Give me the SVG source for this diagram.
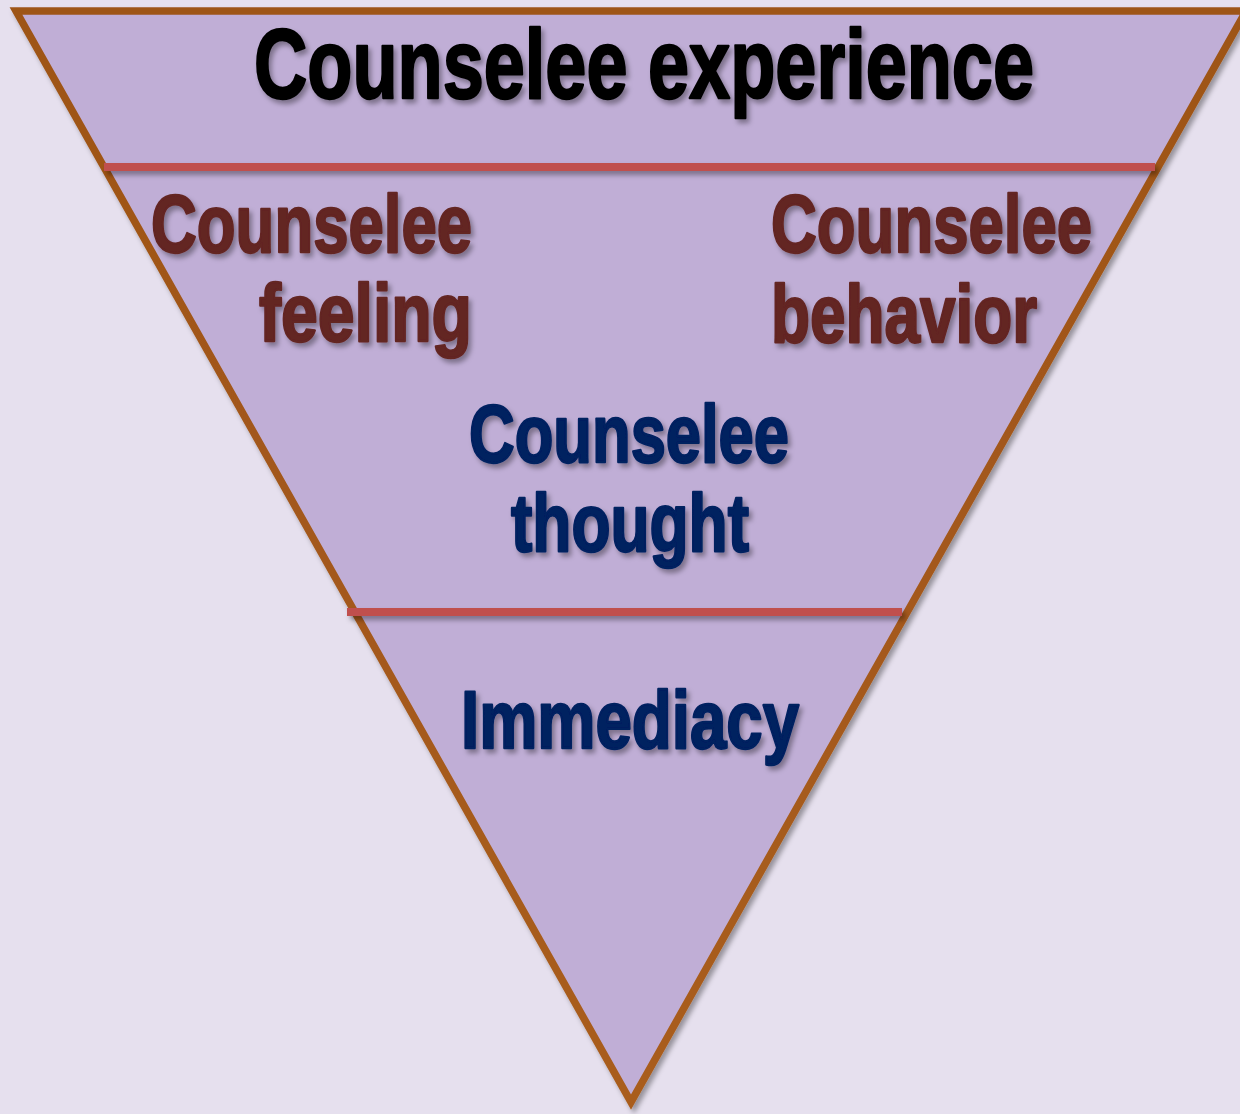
<svg xmlns="http://www.w3.org/2000/svg" width="1240" height="1114" viewBox="0 0 1240 1114">
  <defs>
    <filter id="shadow" filterUnits="userSpaceOnUse" x="0" y="0" width="1240" height="1114">
      <feDropShadow dx="3" dy="4" stdDeviation="2.5" flood-color="#000" flood-opacity="0.35"/>
    </filter>
    <linearGradient id="edge" x1="0" y1="0" x2="0" y2="1">
      <stop offset="0" stop-color="#9E5418"/>
      <stop offset="1" stop-color="#A95D1D"/>
    </linearGradient>
  </defs>
  <style>
    .lbl { font-family: "Liberation Sans", Arial, "DejaVu Sans", sans-serif; font-weight: bold; stroke-width: 2.4; stroke-linejoin: round; }
    .top { font-size: 99px; fill: #000; stroke: #000; }
    .brn { font-size: 81px; fill: #632523; stroke: #632523; }
    .blu { font-size: 81px; fill: #002060; stroke: #002060; }
    .divider { stroke: #C0504D; stroke-width: 8; fill: none; }
  </style>
  <rect x="0" y="0" width="1240" height="1114" fill="#E6E0EE"/>

  <g id="pyramid" filter="url(#shadow)">
    <polygon points="16,11 1246,11 631,1102" fill="#C0AED6" stroke="url(#edge)" stroke-width="7.5" stroke-linejoin="miter"/>
  </g>

  <g id="connectors" filter="url(#shadow)">
    <line class="divider" x1="104" y1="167" x2="1155" y2="167"/>
    <line class="divider" x1="347" y1="612" x2="902" y2="612"/>
  </g>

  <g id="experience" filter="url(#shadow)">
    <text class="lbl top" x="254" y="98" textLength="780" lengthAdjust="spacingAndGlyphs">Counselee experience</text>
  </g>

  <g id="feeling" filter="url(#shadow)">
    <text class="lbl brn" x="151" y="252" textLength="321" lengthAdjust="spacingAndGlyphs">Counselee</text>
    <text class="lbl brn" x="259" y="341" textLength="213" lengthAdjust="spacingAndGlyphs">feeling</text>
  </g>

  <g id="behavior" filter="url(#shadow)">
    <text class="lbl brn" x="771" y="252" textLength="321" lengthAdjust="spacingAndGlyphs">Counselee</text>
    <text class="lbl brn" x="771" y="342" textLength="266" lengthAdjust="spacingAndGlyphs">behavior</text>
  </g>

  <g id="thought" filter="url(#shadow)">
    <text class="lbl blu" x="469" y="462" textLength="320" lengthAdjust="spacingAndGlyphs">Counselee</text>
    <text class="lbl blu" x="511" y="551" textLength="238" lengthAdjust="spacingAndGlyphs">thought</text>
  </g>

  <g id="immediacy" filter="url(#shadow)">
    <text class="lbl blu" x="461" y="748" textLength="338" lengthAdjust="spacingAndGlyphs">Immediacy</text>
  </g>
</svg>
